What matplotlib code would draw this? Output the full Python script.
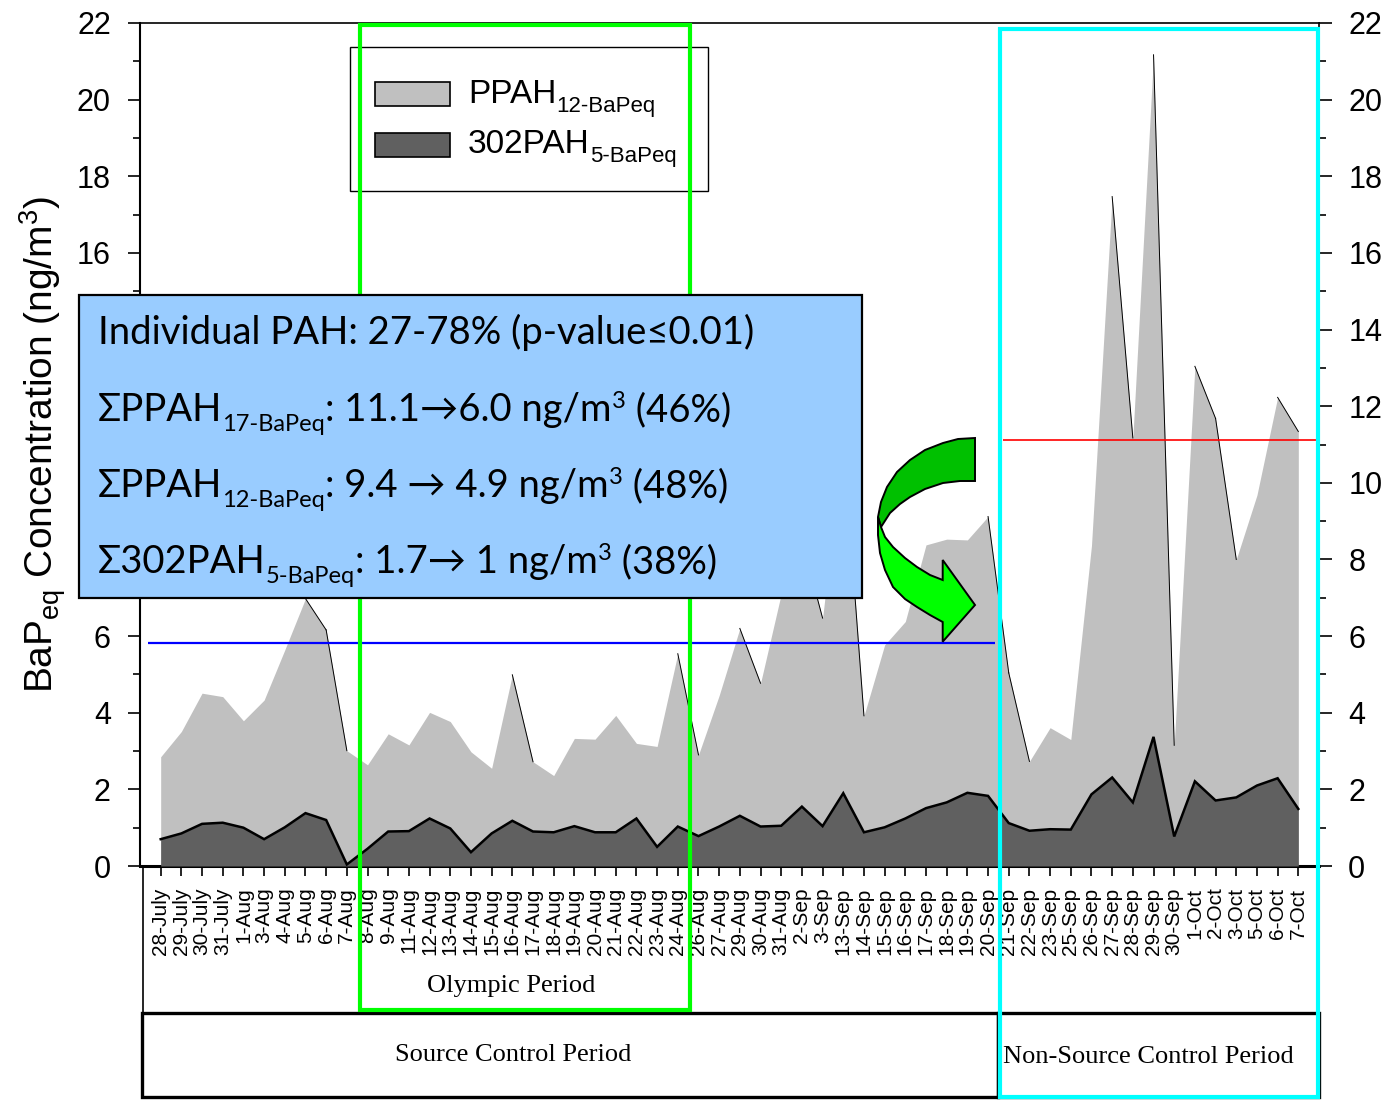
import matplotlib
matplotlib.use("Agg")
import matplotlib.pyplot as plt
from matplotlib.patches import Rectangle, Polygon
from matplotlib.lines import Line2D
import numpy as np

# ---- data -------------------------------------------------------------
dates = ["28-July", "29-July", "30-July", "31-July", "1-Aug", "3-Aug", "4-Aug",
         "5-Aug", "6-Aug", "7-Aug", "8-Aug", "9-Aug", "11-Aug", "12-Aug",
         "13-Aug", "14-Aug", "15-Aug", "16-Aug", "17-Aug", "18-Aug", "19-Aug",
         "20-Aug", "21-Aug", "22-Aug", "23-Aug", "24-Aug", "26-Aug", "27-Aug",
         "29-Aug", "30-Aug", "31-Aug", "2-Sep", "3-Sep", "13-Sep", "14-Sep",
         "15-Sep", "16-Sep", "17-Sep", "18-Sep", "19-Sep", "20-Sep", "21-Sep",
         "22-Sep", "23-Sep", "25-Sep", "26-Sep", "27-Sep", "28-Sep", "29-Sep",
         "30-Sep", "1-Oct", "2-Oct", "3-Oct", "5-Oct", "6-Oct", "7-Oct"]

ppah12 = [2.85, 3.51, 4.51, 4.42, 3.79, 4.33, 5.64, 6.98, 6.16, 3.01,
          2.64, 3.45, 3.16, 4.01, 3.77, 2.98, 2.55, 4.99, 2.72, 2.36,
          3.33, 3.31, 3.93, 3.20, 3.12, 5.54, 2.90, 4.45, 6.20, 4.77,
          7.10, 8.50, 6.47, 11.10, 3.92, 5.77, 6.38, 8.38, 8.53, 8.51,
          9.12, 5.04, 2.73, 3.61, 3.30, 8.36, 17.47, 11.17, 21.17, 3.15,
          13.04, 11.68, 8.00, 9.68, 12.23, 11.34]

pah302 = [0.70, 0.85, 1.10, 1.13, 1.00, 0.70, 1.01, 1.38, 1.20, 0.04,
          0.45, 0.90, 0.91, 1.24, 0.98, 0.36, 0.85, 1.18, 0.90, 0.88,
          1.04, 0.88, 0.88, 1.24, 0.50, 1.03, 0.78, 1.03, 1.31, 1.03,
          1.05, 1.55, 1.04, 1.90, 0.88, 1.01, 1.24, 1.51, 1.66, 1.91,
          1.83, 1.12, 0.92, 0.96, 0.95, 1.87, 2.31, 1.66, 3.37, 0.77,
          2.21, 1.71, 1.79, 2.10, 2.29, 1.49]

mean_source = 5.83      # source-control period level
mean_nonsource = 11.12  # non-source-control period level

yticks = list(range(0, 23, 2))
# left-hand labels that sit behind the summary box are left blank
left_hidden = [8, 10, 12, 14]

# ---- fonts ------------------------------------------------------------
plt.rcParams["font.family"] = ["Liberation Sans", "DejaVu Sans"]
plt.rcParams["mathtext.fontset"] = "custom"
plt.rcParams["mathtext.rm"] = "Liberation Sans"
plt.rcParams["mathtext.it"] = "Liberation Sans:italic"
plt.rcParams["mathtext.bf"] = "Liberation Sans:bold"

SANS = ["Liberation Sans", "DejaVu Sans"]
BOX = ["Lato", "DejaVu Sans"]
SERIF = ["Liberation Serif", "DejaVu Serif"]

W, H = 1387, 1101
fig = plt.figure(figsize=(W / 100, H / 100), dpi=100)
fig.patch.set_facecolor("white")
renderer = fig.canvas.get_renderer()


def fx(px):
    return px / W


def fy(py):
    return 1 - py / H


ax = fig.add_axes([fx(140), fy(866), (1319 - 140) / W, (866 - 23) / H])

x = np.arange(len(dates))
ppah_arr = np.array(ppah12)
p302_arr = np.array(pah302)

ax.fill_between(x, 0, ppah_arr, color="#C0C0C0", lw=0, zorder=1)
# thin outline on the steep falling edges of the light area
for i in range(len(x) - 1):
    if ppah_arr[i] - ppah_arr[i + 1] > 0.8:
        ax.plot(x[i:i + 2], ppah_arr[i:i + 2], color="black", lw=0.7, zorder=2)
ax.fill_between(x, 0, p302_arr, color="#606060", lw=0, zorder=3)
ax.plot(x, p302_arr, color="black", lw=1.8, zorder=4, solid_joinstyle="miter")

ax.hlines(mean_source, -0.63, 40.36, color="#0000FF", lw=1.6, zorder=5)
ax.hlines(mean_nonsource, 40.7, 56, color="#FF0000", lw=1.2, zorder=5)

ax.set_xlim(-1, 56)
ax.set_ylim(0, 22)
ax.set_xticks(x)
ax.set_xticklabels(dates, rotation=90, fontsize=15, family=SANS)
ax.set_yticks(yticks)
ax.set_yticklabels(["" if v in left_hidden else str(v) for v in yticks])
ax.set_yticks(range(0, 23), minor=True)
ax.tick_params(axis="y", which="major", direction="out", length=9, width=1.2,
               labelsize=22, left=True, right=True, labelleft=True,
               labelright=False, pad=12)
ax.tick_params(axis="y", which="minor", direction="out", length=5, width=1.2,
               left=True, right=True)
ax.tick_params(axis="x", direction="out", length=7.5, width=1.2, pad=8)
ax.spines["left"].set_linewidth(1.5)
ax.spines["right"].set_linewidth(1.2)
ax.spines["top"].set_linewidth(1.2)
ax.spines["bottom"].set_linewidth(2.2)

# right-hand value axis with the full set of labels
rax = ax.twinx()
rax.set_ylim(0, 22)
rax.set_yticks(yticks)
rax.set_yticklabels([str(v) for v in yticks])
rax.set_yticks(range(0, 23), minor=True)
rax.tick_params(axis="y", which="major", direction="out", length=9, width=1.2,
                labelsize=22, pad=12)
rax.tick_params(axis="y", which="minor", direction="out", length=5, width=1.2)
for s in rax.spines.values():
    s.set_visible(False)

ax.set_ylabel(r"BaP$_{\mathrm{eq}}$ Concentration (ng/m$^{3}$)", fontsize=28,
              labelpad=6)


def text_width(s, size, family):
    t1 = fig.text(0, 0, "|" + s + "|", fontsize=size, family=family)
    t2 = fig.text(0, 0, "||", fontsize=size, family=family)
    w = t1.get_window_extent(renderer).width - t2.get_window_extent(renderer).width
    t1.remove()
    t2.remove()
    return w


def rich_text(x_px, y_px, pieces, family, zorder=20):
    """Draw text pieces (string, size, baseline shift in px) one after another."""
    cx = x_px
    for s, size, dy in pieces:
        fig.text(fx(cx), fy(y_px + dy), s, fontsize=size, family=family,
                 ha="left", va="baseline", zorder=zorder)
        cx += text_width(s, size, family)


# ---- legend -----------------------------------------------------------
fig.patches.append(Rectangle((fx(350), fy(191)), (708 - 350) / W, (191 - 47) / H,
                             transform=fig.transFigure, facecolor="white",
                             edgecolor="black", lw=1.0, zorder=10))
fig.patches.append(Rectangle((fx(375), fy(106)), 75 / W, 24 / H,
                             transform=fig.transFigure, facecolor="#C0C0C0",
                             edgecolor="black", lw=1.2, zorder=11))
fig.patches.append(Rectangle((fx(375), fy(157)), 75 / W, 24 / H,
                             transform=fig.transFigure, facecolor="#606060",
                             edgecolor="black", lw=1.2, zorder=11))
rich_text(468, 103, [("PPAH", 24, 0), ("12-BaPeq", 16, 9)], SANS)
rich_text(468, 153, [("302PAH", 24, 0), ("5-BaPeq", 16, 9)], SANS)

# ---- period frames ----------------------------------------------------
def frame(x0, y0, x1, y1, color, lw, z):
    fig.patches.append(Rectangle((fx(x0), fy(y1)), (x1 - x0) / W, (y1 - y0) / H,
                                 transform=fig.transFigure, facecolor="none",
                                 edgecolor=color, lw=lw, zorder=z))


fig.lines.append(Line2D([fx(142.5), fx(142.5)], [fy(866), fy(1013)],
                        transform=fig.transFigure, color="black", lw=1.2))
frame(142, 1013, 998, 1097, "black", 2.4, 12)
frame(998, 1013, 1319, 1097, "black", 2.4, 12)
frame(360, 25, 690, 1010, "#00FF00", 3, 13)
frame(1000, 29, 1318, 1097, "#00FFFF", 3, 13)

fig.text(fx(511), fy(986), "Olympic Period", fontsize=19, family=SERIF,
         ha="center", va="center")
fig.text(fx(513), fy(1055), "Source Control Period", fontsize=19, family=SERIF,
         ha="center", va="center")
fig.text(fx(1148), fy(1057), "Non-Source Control Period", fontsize=19,
         family=SERIF, ha="center", va="center")

# ---- summary box --------------------------------------------------------
fig.patches.append(Rectangle((fx(79), fy(598)), (862 - 79) / W, (598 - 295) / H,
                             transform=fig.transFigure, facecolor="#99CCFF",
                             edgecolor="black", lw=1.6, zorder=15))
BS, SS, SD = 27.5, 17, 10
PS, PD = 17, -13
rich_text(98, 344, [("Individual PAH: 27-78% (p-value\u22640.01)", BS, 0)], BOX)
rich_text(98, 421, [("\u03a3PPAH", BS, 0), ("17-BaPeq", SS, SD),
                    (": 11.1\u21926.0 ng/m", BS, 0), ("3", PS, PD),
                    (" (46%)", BS, 0)], BOX)
rich_text(98, 497, [("\u03a3PPAH", BS, 0), ("12-BaPeq", SS, SD),
                    (": 9.4 \u2192 4.9 ng/m", BS, 0), ("3", PS, PD),
                    (" (48%)", BS, 0)], BOX)
rich_text(98, 573, [("\u03a3302PAH", BS, 0), ("5-BaPeq", SS, SD),
                    (": 1.7\u2192 1 ng/m", BS, 0), ("3", PS, PD),
                    (" (38%)", BS, 0)], BOX)

# ---- curved green arrow -------------------------------------------------
upper_band = [(975, 438), (958, 439), (943, 443), (925, 450), (910, 460),
              (897, 472), (887, 487), (881, 502), (878, 517), (881, 527),
              (890, 513), (900, 504), (910, 497), (925, 489), (943, 483),
              (960, 481), (975, 481)]
lower_band = [(878, 517), (878, 535), (880, 553), (885, 570), (893, 587),
              (905, 599), (917, 607), (930, 615), (942.7, 622), (942.7, 641.7),
              (975, 605), (942.7, 560), (942.7, 580), (930, 575), (917, 567),
              (905, 558), (893, 547), (885, 537), (881, 527)]
for pts, col in ((upper_band, "#00C000"), (lower_band, "#00FF00")):
    fig.patches.append(Polygon([(fx(a), fy(b)) for a, b in pts], closed=True,
                               transform=fig.transFigure, facecolor=col,
                               edgecolor="black", lw=1.4, zorder=16))

fig.savefig("out.png", dpi=100)
